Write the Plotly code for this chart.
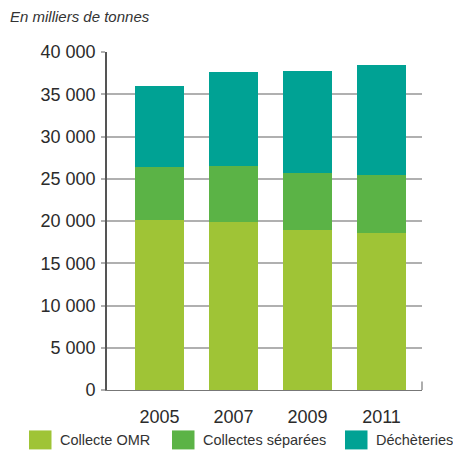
import plotly.graph_objects as go

years = ["2005", "2007", "2009", "2011"]
series_names = ["Collecte OMR", "Collectes séparées", "Déchèteries"]
collecte_omr = [20100, 19900, 18900, 18600]
collectes_separees = [6300, 6600, 6800, 6800]
decheteries = [9600, 11100, 12100, 13100]
colors = ["#9FC436", "#5BB346", "#00A294"]
y_ticks = [0, 5000, 10000, 15000, 20000, 25000, 30000, 35000, 40000]
y_tick_text = ["0", "5 000", "10 000", "15 000", "20 000", "25 000", "30 000", "35 000", "40 000"]

FONT = "Liberation Sans, Arial, sans-serif"
W, H = 453, 451
ML, MR, MT, MB = 107, 31, 52, 60.5
PW = W - ML - MR
PH = H - MT - MB

fig = go.Figure()
for name, vals, col in zip(series_names, [collecte_omr, collectes_separees, decheteries], colors):
    fig.add_trace(go.Bar(x=list(range(len(years))), y=vals, name=name,
                         marker=dict(color=col, line=dict(width=0)),
                         width=0.662, showlegend=False))

fig.update_layout(
    width=W, height=H,
    margin=dict(l=ML, r=MR, t=MT, b=MB, pad=0),
    barmode="stack",
    plot_bgcolor="white", paper_bgcolor="white",
    font=dict(family=FONT, color="#333333", size=18),
    xaxis=dict(
        range=[-0.709, 3.547], tickmode="array",
        tickvals=list(range(len(years))), ticktext=years,
        showgrid=False, zeroline=False,
        showline=True, linecolor="#777777", linewidth=1.2,
        ticks="", ticklabelstandoff=10,
        tickfont=dict(size=18, color="#2b2b2b", family=FONT),
    ),
    yaxis=dict(
        range=[0, 40000], tickmode="array", tickvals=y_ticks, ticktext=y_tick_text,
        showgrid=True, gridcolor="#B0B0B0", gridwidth=1.5,
        zeroline=False,
        showline=True, linecolor="#555555", linewidth=1.6,
        ticks="outside", ticklen=4, tickcolor="#B0B0B0", tickwidth=1.5,
        ticklabelstandoff=2,
        tickfont=dict(size=18, color="#2b2b2b", family=FONT),
    ),
)

# right-end tick on the bottom axis
fig.add_shape(type="line", xref="paper", yref="paper", x0=1, x1=1, y0=0, y1=8.5 / PH,
              line=dict(color="#777777", width=1.2))

# title
fig.add_annotation(text="<i>En milliers de tonnes</i>", xref="paper", yref="paper",
                   x=(8 - ML) / PW, y=(H - MB - 16) / PH, xanchor="left", yanchor="middle",
                   showarrow=False, font=dict(size=15, color="#333333", family=FONT))

# custom legend
legend_left_px = [29, 172, 345]
sq_w, sq_h = 22.5, 19
sq_top = 431
for name, col, lx in zip(series_names, colors, legend_left_px):
    fig.add_shape(type="rect", xref="paper", yref="paper",
                  x0=(lx - ML) / PW, x1=(lx + sq_w - ML) / PW,
                  y0=(H - MB - (sq_top + sq_h)) / PH, y1=(H - MB - sq_top) / PH,
                  fillcolor=col, line=dict(width=0))
    fig.add_annotation(text=name, xref="paper", yref="paper",
                       x=(lx + sq_w + 6.5 - ML) / PW, y=(H - MB - 441) / PH,
                       xanchor="left", yanchor="middle", showarrow=False,
                       font=dict(size=14.5, color="#333333", family=FONT))

fig.write_html("out.html")
